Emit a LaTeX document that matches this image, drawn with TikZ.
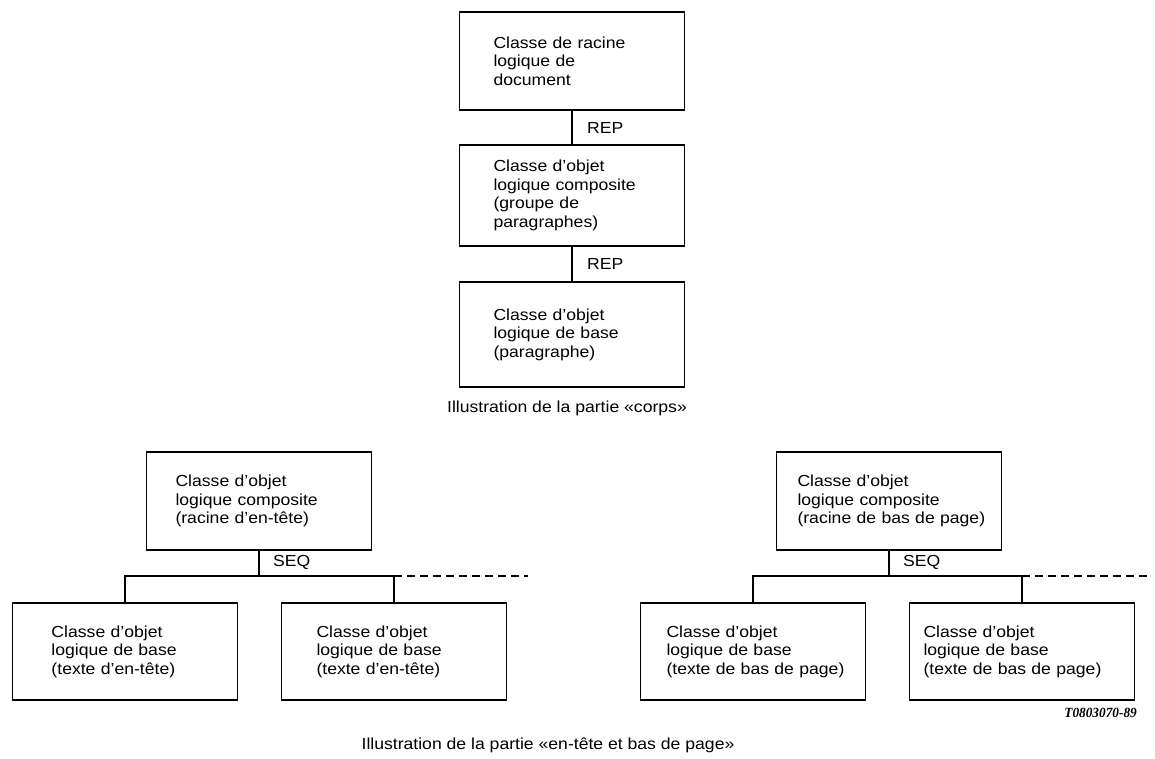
\documentclass[tikz,border=0pt]{standalone}
\usepackage{fontspec}
\setmainfont{Liberation Sans}[FakeStretch=1.1]
\newfontfamily\reffont{Liberation Serif}[FakeStretch=0.95]
\begin{document}
\begin{tikzpicture}[x=1pt,y=-1pt,
  box/.style 2 args={draw, line width=1.8pt, text width=225pt, inner xsep=0pt, inner ysep=0pt,
    align=left, minimum height=#1, font=\fontsize{16}{18.5}\selectfont,
    execute at begin node={\leftskip=#2}},
  conn/.style={line width=2pt},
  dconn/.style={line width=2pt, dash pattern=on 8pt off 5pt},
  lab/.style={font=\fontsize{16}{18.5}\selectfont, inner sep=0pt, anchor=west},
  captext/.style={font=\fontsize{16}{18}\selectfont, inner sep=0pt}]
\useasboundingbox[fill=white] (0,0) rectangle (1155,759);

% top: corps
\node[box={98pt}{34pt}] (b1) at (572,61) {Classe de racine\\logique de\\document};
\node[box={101pt}{34pt}] (b2) at (572,195.5) {Classe d'objet\\logique composite\\(groupe de\\paragraphes)};
\node[box={105pt}{34pt}] (b3) at (572,334.5) {Classe d'objet\\logique de base\\(paragraphe)};
\draw[conn] (b1.south) -- (b2.north);
\draw[conn] (b2.south) -- (b3.north);
\node[lab] (rep1) at (587,128) {REP};
\node[lab] (rep2) at (587,264) {REP};
\node[captext] (cap1) at (567,408) {Illustration de la partie «corps»};

% bottom left: en-tete
\node[box={98pt}{29pt}] (l0) at (259,501) {Classe d'objet\\logique composite\\(racine d'en-tête)};
\node[box={97pt}{39pt}] (l1) at (125,651.5) {Classe d'objet\\logique de base\\(texte d'en-tête)};
\node[box={97pt}{35pt}] (l2) at (394,651.5) {Classe d'objet\\logique de base\\(texte d'en-tête)};
\coordinate (lbus) at (0,576);
\coordinate (lend) at (528,576);
\draw[conn] (l0.south) -- (l0.south |- lbus);
\draw[conn] (l1.north) -- (l1.north |- lbus) -- (l2.north |- lbus) -- (l2.north);
\draw[dconn] (l2.north |- lbus) -- (lend);
\node[lab] (seq1) at (273,562) {SEQ};

% bottom right: bas de page
\node[box={98pt}{21pt}] (r0) at (889,501) {Classe d'objet\\logique composite\\(racine de bas de page)};
\node[box={97pt}{26pt}] (r1) at (753,651.5) {Classe d'objet\\logique de base\\(texte de bas de page)};
\node[box={97pt}{14pt}] (r2) at (1022,651.5) {Classe d'objet\\logique de base\\(texte de bas de page)};
\coordinate (rbus) at (0,576);
\coordinate (rend) at (1150,576);
\draw[conn] (r0.south) -- (r0.south |- rbus);
\draw[conn] (r1.north) -- (r1.north |- rbus) -- (r2.north |- rbus) -- (r2.north);
\draw[dconn] (r2.north |- rbus) -- (rend);
\node[lab] (seq2) at (903,562) {SEQ};

\node[inner sep=0pt, anchor=east, font=\reffont\itshape\bfseries\fontsize{14}{16}\selectfont] (ref) at (1137,713) {T0803070-89};
\node[captext] (cap2) at (548,745) {Illustration de la partie «en-tête et bas de page»};
\end{tikzpicture}
\end{document}
